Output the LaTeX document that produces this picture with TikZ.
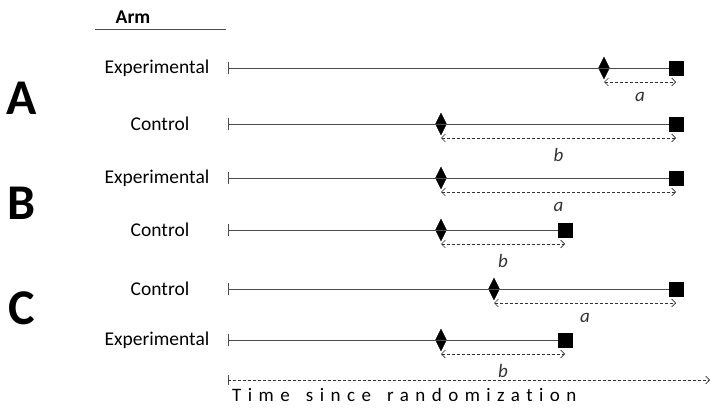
\documentclass[tikz,border=0pt]{standalone}
\usepackage{fontspec}
\setmainfont{Carlito}
\newfontfamily\spacedfont[LetterSpace=34, WordSpace=1.5, Ligatures={NoCommon}]{Carlito}
\usetikzlibrary{shapes.geometric, arrows.meta, positioning}

\begin{document}
\begin{tikzpicture}[x=1pt, y=-1pt,
    arm/.style={font=\fontsize{19.5}{23}\selectfont},
    panel/.style={font=\fontsize{50}{56}\selectfont\bfseries},
    event/.style={draw, diamond, fill=black, inner sep=0pt, minimum width=11pt, minimum height=22pt},
    death/.style={draw, rectangle, fill=black, inner sep=0pt, minimum size=14pt},
    track/.style={line width=0.8pt, black!70},
    gap/.style={densely dashed, line width=0.6pt, black!80, {Straight Barb[length=4pt, width=8pt]}-{Straight Barb[length=4pt, width=8pt]}},
    len/.style={font=\fontsize{19}{22}\selectfont\itshape}
]
\useasboundingbox (0,0) rectangle (714,410);

% Header
\node (armhead) [arm, font=\fontsize{19.5}{23}\selectfont\bfseries] at (133,17) {Arm};
\coordinate (h1) at (95,29);
\coordinate (h2) at (226,29);
\draw [track] (h1) -- (h2);

% Panel letters
\node (pA) [panel] at (22,98) {A};
\node (pB) [panel] at (22,203) {B};
\node (pC) [panel] at (22,308) {C};

% Scenario A
\coordinate (s1) at (228,68);
\node (e1) [event] at (604,68) {};
\node (d1) [death] at (676,68) {};
\node (l1) [arm] at (157,68) {Experimental};
\draw [track] (s1) ++(0,-6) -- ++(0,12);
\draw [track] (s1) -- (d1);
\draw [gap] ([yshift=-14pt]e1.center) -- node[len, below=7pt]{a} ([yshift=-14pt]d1.center);

\coordinate (s2) at (228,124);
\node (e2) [event] at (441,124) {};
\node (d2) [death] at (676,124) {};
\node (l2) [arm] at (160,124) {Control};
\draw [track] (s2) ++(0,-6) -- ++(0,12);
\draw [track] (s2) -- (d2);
\draw [gap] ([yshift=-14pt]e2.center) -- node[len, below=7pt]{b} ([yshift=-14pt]d2.center);

% Scenario B
\coordinate (s3) at (228,178);
\node (e3) [event] at (441,178) {};
\node (d3) [death] at (676,178) {};
\node (l3) [arm] at (157,178) {Experimental};
\draw [track] (s3) ++(0,-6) -- ++(0,12);
\draw [track] (s3) -- (d3);
\draw [gap] ([yshift=-14pt]e3.center) -- node[len, below=7pt]{a} ([yshift=-14pt]d3.center);

\coordinate (s4) at (228,230);
\node (e4) [event] at (441,230) {};
\node (d4) [death] at (565,230) {};
\node (l4) [arm] at (160,230) {Control};
\draw [track] (s4) ++(0,-6) -- ++(0,12);
\draw [track] (s4) -- (d4);
\draw [gap] ([yshift=-14pt]e4.center) -- node[len, below=7pt]{b} ([yshift=-14pt]d4.center);

% Scenario C
\coordinate (s5) at (228,289);
\node (e5) [event] at (494,289) {};
\node (d5) [death] at (676,289) {};
\node (l5) [arm] at (160,289) {Control};
\draw [track] (s5) ++(0,-6) -- ++(0,12);
\draw [track] (s5) -- (d5);
\draw [gap] ([yshift=-14pt]e5.center) -- node[len, below=7pt]{a} ([yshift=-14pt]d5.center);

\coordinate (s6) at (228,340);
\node (e6) [event] at (441,340) {};
\node (d6) [death] at (565,340) {};
\node (l6) [arm] at (157,340) {Experimental};
\draw [track] (s6) ++(0,-6) -- ++(0,12);
\draw [track] (s6) -- (d6);
\draw [gap] ([yshift=-14pt]e6.center) -- node[len, below=7pt]{b} ([yshift=-14pt]d6.center);

% Time axis
\coordinate (t0) at (228,380);
\coordinate (t1) at (710,380);
\draw [track, line width=0.6pt] (t0) ++(0,-5) -- ++(0,10);
\draw [densely dashed, line width=0.6pt, black!80, -{Straight Barb[length=4pt, width=8pt]}] (t0) -- (t1);
\node (taxis) [anchor=north west, inner sep=0pt, font=\fontsize{19}{22}\spacedfont] at (232,388) {Time since randomization};

\end{tikzpicture}
\end{document}
